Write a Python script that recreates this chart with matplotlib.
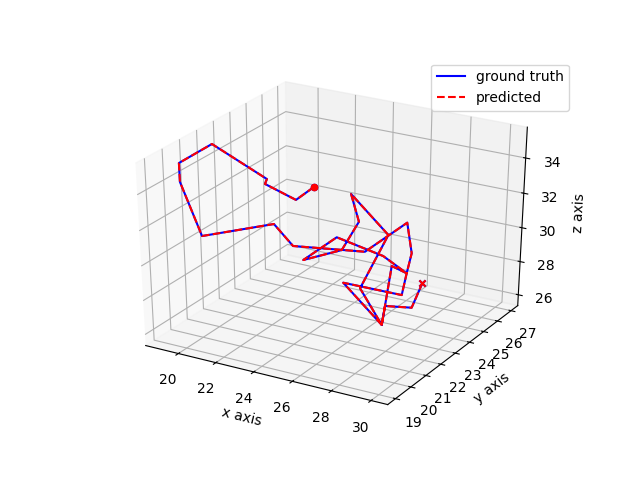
import matplotlib
matplotlib.use('Agg')
import matplotlib.pyplot as plt
from matplotlib.ticker import MultipleLocator

# trajectory
x_vals = [22.72, 22.18, 20.89, 21.0, 18.93, 18.8, 18.81, 19.41, 22.1, 22.67, 26.1, 27.55, 27.81, 27.95, 28.02, 26.1,
          28.4, 28.17, 27.95, 27.04, 24.96, 23.62, 25.22, 25.78, 25.05, 26.98, 26.57, 28.4, 27.86, 28.54, 28.39]
y_vals = [23.9, 23.4, 23.0, 23.0, 22.1, 20.3, 20.3, 20.8, 22.1, 22.6, 23.0, 23.9, 23.9, 23.4, 23.0, 21.6,
          21.2, 22.1, 23.4, 23.0, 22.6, 22.1, 22.6, 23.0, 23.4, 23.4, 22.1, 21.2, 22.1, 23.0, 23.9]
z_vals = [32.5, 31.91, 32.75, 33.05, 35.04, 34.9, 33.86, 30.66, 31.24, 29.82, 30.08, 31.57, 29.88, 29.05, 28.04, 29.13,
          27.52, 30.3, 29.05, 30.06, 30.87, 29.53, 30.2, 31.72, 32.9, 31.02, 28.62, 27.52, 27.92, 27.43, 28.27]

fig = plt.figure()
ax = fig.add_subplot(projection='3d')
# old mplot3d look: unit cube stretched over the whole axes box
ax.apply_aspect = lambda position=None: None
ax.set_box_aspect((1, 1, 1), zoom=0.947)

ax.plot(x_vals, y_vals, z_vals, 'b-', label='ground truth')
ax.plot(x_vals, y_vals, z_vals, 'r--', label='predicted')
ax.scatter(x_vals[0], y_vals[0], z_vals[0], c='b', marker='o')
ax.scatter(x_vals[-1], y_vals[-1], z_vals[-1], c='b', marker='x')
ax.scatter(x_vals[0], y_vals[0], z_vals[0], c='r', marker='o')
ax.scatter(x_vals[-1], y_vals[-1], z_vals[-1], c='r', marker='x')

ax.set_xlim(18.23, 30.83)
ax.set_ylim(18.5, 27.5)
ax.set_zlim(25.34, 35.72)
ax.yaxis.set_major_locator(MultipleLocator(1))
ax.set_xlabel('x axis')
ax.set_ylabel('y axis')
ax.set_zlabel('z axis')
ax.legend()
plt.savefig('out.png')
